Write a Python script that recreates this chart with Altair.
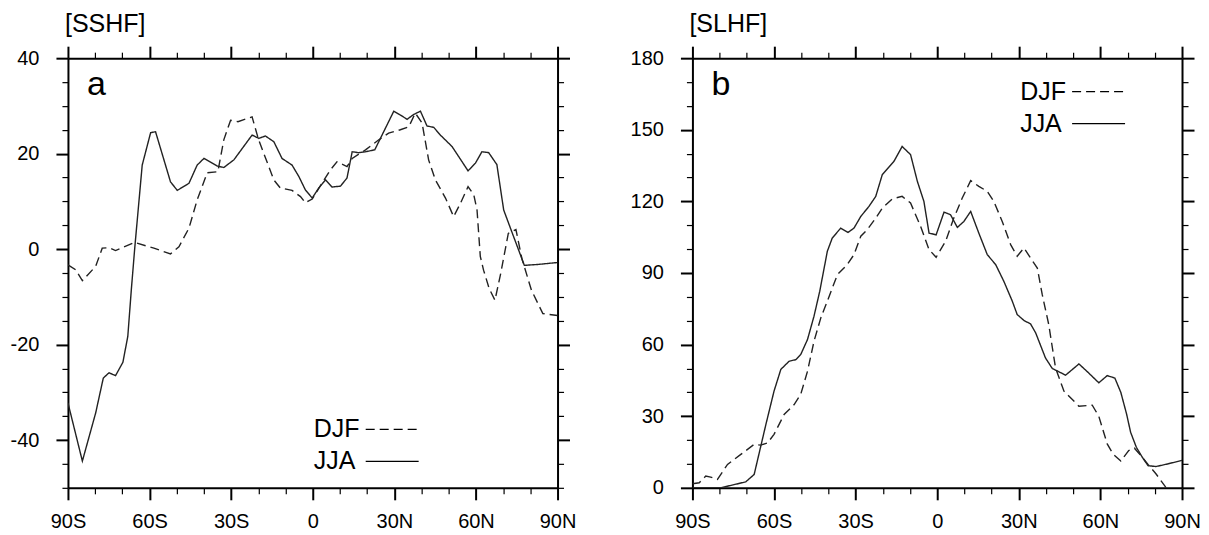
import altair as alt
import pandas as pd

# ---------------- data ----------------
# Panel a: [SSHF]
sshf_djf_lat = [-90, -87.2, -84.7, -79.8, -77.4, -74.9, -72.5, -65.5, -58.4, -52.3, -49.2, -45.5,
                -42.5, -38.8, -34.9, -32.7, -30.2, -27.5, -22.3, -19.9, -14.3, -11.9, -7.6, -4.5,
                -2.7, -0.2, 3.4, 6.5, 8.9, 12.6, 14.5, 19.4, 24.3, 27.9, 32.2, 35.3, 37.7, 40.2,
                42.6, 45.1, 48.8, 51.8, 54.3, 57.1, 59.2, 60.4, 61.6, 62.8, 64.9, 67.0, 69.1,
                71.9, 74.7, 76.9, 80.4, 84.6, 90]
sshf_djf_val = [-3.3, -4.3, -6.6, -3.6, 0.2, 0.3, -0.3, 1.4, 0.2, -1.0, 0.5, 4.4,
                10.3, 16.0, 16.2, 22.9, 27.0, 26.7, 27.7, 22.9, 14.5, 12.8, 12.3, 11.0,
                9.7, 10.5, 13.8, 16.6, 18.3, 17.3, 19.0, 20.8, 22.9, 24.3, 25.0, 25.6, 28.5, 26.4,
                18.7, 14.5, 10.7, 6.8, 9.6, 13.1, 11.4, 8.2, -1.5, -4.4, -8.3, -10.7, -5.1,
                3.3, 4.1, -2.0, -8.6, -13.5, -13.9]
sshf_jja_lat = [-90, -84.7, -79.8, -77.0, -74.9, -72.5, -69.8, -68.0, -66.7, -65.4, -62.7, -59.6,
                -57.8, -52.3, -49.8, -45.5, -42.5, -40.0, -35.1, -32.7, -29.0, -22.3, -19.8, -17.4,
                -14.3, -11.3, -7.6, -5.1, -2.7, -0.2, 2.2, 4.7, 7.1, 10.2, 12.6, 14.5, 16.9, 19.4,
                22.8, 27.3, 29.8, 32.2, 34.7, 37.1, 39.6, 42.0, 44.5, 46.9, 51.2, 57.1, 59.8,
                62.2, 64.7, 67.7, 70.2, 73.4, 77.8, 83.0, 90]
sshf_jja_val = [-32.2, -44.4, -34.3, -27.0, -25.9, -26.5, -23.7, -18.3, -8.5, 0.5, 17.6, 24.4,
                24.6, 14.1, 12.3, 13.8, 17.6, 19.0, 17.4, 17.1, 18.7, 23.9, 23.2, 23.7,
                22.5, 19.0, 17.6, 15.2, 12.4, 10.7, 12.8, 14.5, 13.0, 13.2, 14.9, 20.4, 20.2, 20.4,
                20.8, 26.0, 28.9, 28.1, 27.2, 28.2, 28.9, 25.8, 25.5, 23.9, 21.5, 16.4, 18.0,
                20.4, 20.2, 17.7, 8.2, 3.3, -3.4, -3.2, -2.8]

# Panel b: [SLHF]
slhf_djf_lat = [-90, -87.5, -85.1, -83.3, -80.8, -77.1, -72.2, -67.3, -64.9, -62.4, -60.0, -56.3,
                -52.6, -50.2, -47.7, -45.3, -42.8, -40.4, -36.7, -33.1, -30.6, -28.1, -25.7, -22.6,
                -20.2, -16.5, -12.9, -9.8, -6.1, -3.0, -0.4, 3.1, 6.1, 9.2, 12.3, 15.3, 18.4, 20.8,
                23.9, 27.0, 29.4, 31.9, 34.3, 36.8, 38.6, 41.0, 43.5, 46.6, 52.1, 57.0, 59.4,
                62.5, 64.6, 67.5, 70.4, 72.5, 75.4, 77.5, 80.4, 84.0, 86.0]
slhf_djf_val = [1.7, 2.1, 4.9, 4.5, 3.5, 9.8, 14.0, 18.2, 17.9, 18.8, 22.4, 30.7,
                34.9, 39.1, 48.8, 61.4, 71.2, 78.2, 89.3, 93.5, 97.7, 105.4, 108.2, 113.0,
                117.2, 121.1, 122.1, 119.3, 109.5, 99.8, 96.6, 103.3, 113.0, 121.4, 128.7, 126.3, 124.2, 120.0,
                111.6, 101.9, 97.0, 100.5, 96.3, 92.1, 81.0, 68.4, 50.2, 40.5, 34.2, 34.6, 30.0,
                18.4, 14.2, 11.2, 15.6, 16.6, 12.8, 9.8, 5.9, 0.3, -2.5]
slhf_jja_lat = [-90, -85, -79.6, -70.4, -67.3, -63.0, -60.0, -57.5, -54.5, -52.0, -50.2, -47.7,
                -45.3, -43.2, -40.4, -38.6, -35.5, -32.8, -30.6, -28.1, -25.1, -22.6, -20.2, -15.9,
                -12.9, -9.8, -7.3, -4.9, -3.0, -0.4, 2.5, 4.9, 7.4, 9.8, 12.3, 15.3, 18.4, 21.5,
                24.5, 27.6, 29.4, 32.0, 34.3, 36.2, 39.8, 42.3, 47.2, 52.1, 55.7, 59.4, 62.5,
                65.3, 67.5, 69.6, 71.1, 73.2, 75.4, 77.5, 80.4, 84.7, 90]
slhf_jja_val = [0, 0, 0, 2.5, 5.6, 26.5, 40.5, 49.6, 53.0, 53.7, 55.8, 62.1,
                71.9, 82.3, 99.1, 104.6, 108.8, 107.0, 108.8, 113.7, 117.9, 122.1, 131.2, 136.8,
                143.0, 139.6, 128.4, 120.0, 106.7, 106.0, 115.5, 114.4, 109.1, 111.6, 115.8, 106.7, 97.7, 93.5,
                86.5, 78.2, 72.6, 70.0, 68.7, 64.9, 54.4, 50.0, 47.2, 51.9, 48.1, 44.0, 47.0,
                46.0, 40.0, 31.0, 23.3, 17.0, 12.8, 9.3, 8.9, 10.0, 11.5]

seasons = ["DJF", "JJA"]
lat_ticks = list(range(-90, 91, 10))

FONT = "Liberation Sans"


def make_df(djf_lat, djf_val, jja_lat, jja_val):
    return pd.concat([
        pd.DataFrame({"lat": djf_lat, "val": djf_val, "season": "DJF"}),
        pd.DataFrame({"lat": jja_lat, "val": jja_val, "season": "JJA"}),
    ], ignore_index=True)


def cond(step, major, minor):
    return {"condition": {"test": f"datum.value % {step} === 0", "value": major}, "value": minor}


LAT_LABEL = ("datum.value % 30 !== 0 ? '' : (datum.value < 0 ? (-datum.value) + 'S' : "
             "(datum.value > 0 ? datum.value + 'N' : '0'))")

# legend sample: a long horizontal stroke (custom path, scaled by sqrt(symbolSize)/2)
LEGEND_LINE = "M-5.3,0H5.3"


def panel(df, title, ydomain, ystep, ymajor, letter, leg_x, leg_y):
    yticks = list(range(ydomain[0], ydomain[1] + 1, ystep))
    xscale = alt.Scale(domain=[-90, 90], nice=False, zero=False)
    yscale = alt.Scale(domain=ydomain, nice=False, zero=False)
    common = dict(domainColor="black", domainWidth=2, tickColor="black", grid=False,
                  title=None, labelFont=FONT, labelFontSize=20, labelColor="black",
                  labelOverlap=False)
    xk = dict(values=lat_ticks, tickSize=cond(30, 12, 6), tickWidth=cond(30, 2, 1.2),
              labelPadding=12, **common)
    yk = dict(values=yticks, tickSize=cond(ymajor, 12, 6), tickWidth=cond(ymajor, 2, 1.2),
              labelPadding=17, **common)

    lines = alt.Chart(df).mark_line(color="#222222", strokeWidth=1.4, clip=True).encode(
        x=alt.X("lat:Q", scale=xscale,
                axis=alt.Axis(orient="bottom", labelExpr=LAT_LABEL, labelFlush=False, **xk)),
        y=alt.Y("val:Q", scale=yscale,
                axis=alt.Axis(orient="left",
                              labelExpr=f"datum.value % {ymajor} === 0 ? '' + datum.value : ''",
                              **yk)),
        strokeDash=alt.StrokeDash(
            "season:N",
            scale=alt.Scale(domain=seasons, range=[[9, 5], [1, 0]]),
            legend=alt.Legend(orient="none", legendX=leg_x, legendY=leg_y, title=None,
                              symbolType=LEGEND_LINE, symbolSize=100, symbolStrokeWidth=1.4,
                              symbolStrokeColor="black", symbolFillColor="transparent",
                              labelFont=FONT, labelFontSize=25,
                              labelColor="black", labelAlign="left",
                              labelOffset={"expr": "-91"},
                              rowPadding=6, padding=0),
        ),
    )
    frame = alt.Chart(df).mark_line(opacity=0).encode(
        x=alt.X("lat:Q", scale=xscale, axis=alt.Axis(orient="top", labels=False, **xk)),
        y=alt.Y("val:Q", scale=yscale, axis=alt.Axis(orient="right", labels=False, **yk)),
        detail="season:N",
    )
    tag = alt.Chart(pd.DataFrame({"t": [letter]})).mark_text(
        align="left", baseline="alphabetic", fontSize=34, font=FONT, color="black"
    ).encode(text="t:N", x=alt.value(19), y=alt.value(37))

    return alt.layer(lines, frame, tag).resolve_axis(x="independent", y="independent").properties(
        width=490, height=430,
        title=alt.TitleParams(title, anchor="start", frame="group", fontSize=25, font=FONT,
                              fontWeight="normal", color="black", dx=-3, offset=8),
    )


left = panel(make_df(sshf_djf_lat, sshf_djf_val, sshf_jja_lat, sshf_jja_val),
             "[SSHF]", [-50, 40], 5, 20, "a", 312, 359)
right = panel(make_df(slhf_djf_lat, slhf_djf_val, slhf_jja_lat, slhf_jja_val),
              "[SLHF]", [0, 180], 10, 30, "b", 394, 21)

chart = alt.hconcat(left, right, spacing=53).resolve_scale(strokeDash="independent").configure_view(
    stroke=None
).properties(padding={"left": 2, "top": 4, "right": 0, "bottom": 0}, background="white")

chart.save("out.html", embed_options={"renderer": "svg", "actions": False})
